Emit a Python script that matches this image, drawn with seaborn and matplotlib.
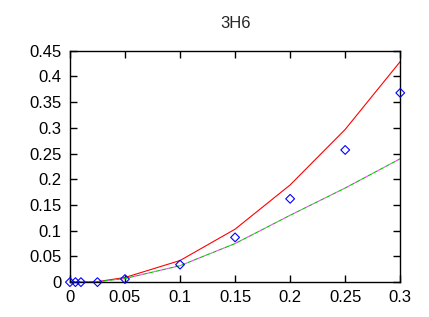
import numpy as np
import pandas as pd
import matplotlib
matplotlib.use("Agg")
import matplotlib.pyplot as plt
import seaborn as sns

# --- data ---
x_pts = [0.0, 0.005, 0.01, 0.025, 0.05, 0.1, 0.15, 0.2, 0.25, 0.3]
y_pts = [0.0, 0.0, 0.0, 0.0, 0.006, 0.034, 0.087, 0.162, 0.257, 0.368]

x_line = [0.0, 0.005, 0.01, 0.025, 0.05, 0.1, 0.15, 0.2, 0.25, 0.3]
y_red = [0.0, 0.0, 0.0, 0.001, 0.009, 0.042, 0.103, 0.189, 0.297, 0.429]
y_green = [0.0, 0.0, 0.0, 0.001, 0.007, 0.032, 0.075, 0.130, 0.183, 0.240]

sns.set_style("ticks")
plt.rcParams["font.family"] = ["Liberation Sans", "DejaVu Sans"]

fig, ax = plt.subplots(figsize=(4.29, 3.17), dpi=100)
fig.subplots_adjust(left=0.163, right=0.933, top=0.84, bottom=0.11)

sns.lineplot(x=x_line, y=y_red, color="#ff0000", lw=0.8, ax=ax)
sns.lineplot(x=x_line, y=y_green, color="#00c000", lw=0.8, ax=ax,
             linestyle=(0, (4, 2)))
sns.lineplot(x=x_line, y=y_green, color="#ff40ff", lw=0.8, ax=ax,
             linestyle=(2, (2, 4)))
sns.scatterplot(x=x_pts, y=y_pts, marker="D", s=20, facecolor="none",
                edgecolor="#0000ff", linewidth=0.8, ax=ax, zorder=3, clip_on=False)

ax.set_xlim(0, 0.3)
ax.set_ylim(0, 0.45)
ax.set_xticks([0, 0.05, 0.1, 0.15, 0.2, 0.25, 0.3])
ax.set_xticklabels(["0", "0.05", "0.1", "0.15", "0.2", "0.25", "0.3"])
ax.set_yticks(np.arange(0, 0.451, 0.05))
ax.set_yticklabels(["0", "0.05", "0.1", "0.15", "0.2", "0.25", "0.3",
                    "0.35", "0.4", "0.45"])
ax.tick_params(direction="in", top=True, right=True, length=5, width=1,
               labelsize=12, colors="black", pad=6)
for s in ax.spines.values():
    s.set_visible(True)
    s.set_linewidth(1)
    s.set_color("black")
ax.set_title("3H6", fontsize=12, pad=16)

fig.savefig("out.png", dpi=100)
